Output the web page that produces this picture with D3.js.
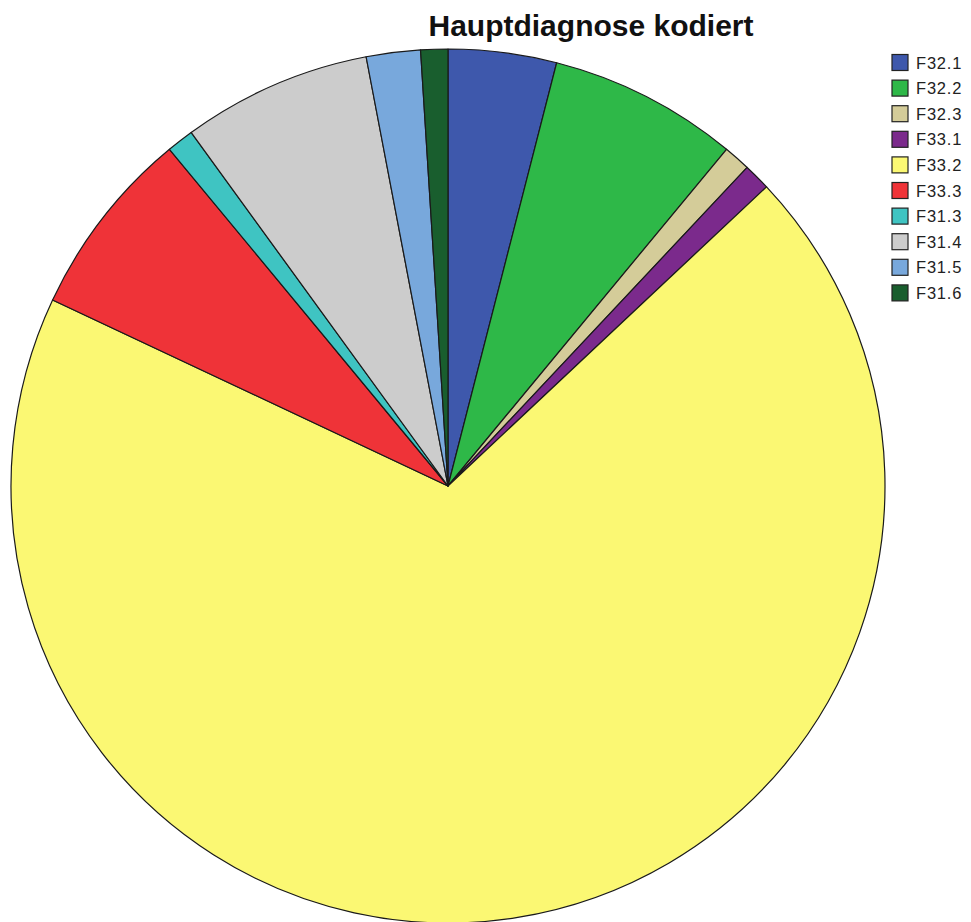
<!DOCTYPE html>
<html>
<head>
<meta charset="utf-8">
<script src="https://cdn.jsdelivr.net/npm/d3@7"></script>
<style>
  html, body { margin: 0; padding: 0; background: #ffffff; }
  svg { display: block; }
</style>
</head>
<body>
<svg id="chart" width="971" height="922"></svg>
<script>
// Diagnosis categories, their counts and slice colours
const categories = ["F32.1", "F32.2", "F32.3", "F33.1", "F33.2", "F33.3", "F31.3", "F31.4", "F31.5", "F31.6"];
const counts = [4, 7, 1, 1, 69, 7, 1, 7, 2, 1];
const colors = ["#3e58ac", "#2eb848", "#d4cc99", "#7b2a8c", "#fbf873", "#ef3338", "#3fc4c2", "#cccccc", "#78a8dc", "#195e2e"];
const title = "Hauptdiagnose kodiert";

const svg = d3.select("#chart");
const cx = 448, cy = 486, radius = 437;

const data = categories.map((c, i) => ({ category: c, value: counts[i] }));
const color = d3.scaleOrdinal().domain(categories).range(colors);

const pie = d3.pie().value(d => d.value).sort(null);
const arc = d3.arc().innerRadius(0).outerRadius(radius);

const g = svg.append("g").attr("transform", `translate(${cx},${cy})`);
g.selectAll("path")
  .data(pie(data))
  .join("path")
  .attr("d", arc)
  .attr("fill", d => color(d.data.category))
  .attr("stroke", "#1a1a1a")
  .attr("stroke-width", 1.2)
  .attr("stroke-linejoin", "round");

// Title
svg.append("text")
  .attr("x", 591)
  .attr("y", 36)
  .attr("text-anchor", "middle")
  .attr("font-family", "Liberation Sans, Arial, sans-serif")
  .attr("font-weight", "bold")
  .attr("font-size", 30)
  .attr("fill", "#111")
  .text(title);

// Legend
const legend = svg.append("g").attr("transform", "translate(892,54.5)");
const rowH = 25.6;
const items = legend.selectAll("g")
  .data(categories)
  .join("g")
  .attr("transform", (d, i) => `translate(0,${i * rowH})`);
items.append("rect")
  .attr("width", 16)
  .attr("height", 16)
  .attr("fill", d => color(d))
  .attr("stroke", "#222")
  .attr("stroke-width", 1.2);
items.append("text")
  .attr("x", 24)
  .attr("y", 14)
  .attr("font-family", "Liberation Sans, Arial, sans-serif")
  .attr("font-size", 16.5)
  .attr("letter-spacing", 0.8)
  .attr("fill", "#222")
  .text(d => d);
</script>
</body>
</html>
